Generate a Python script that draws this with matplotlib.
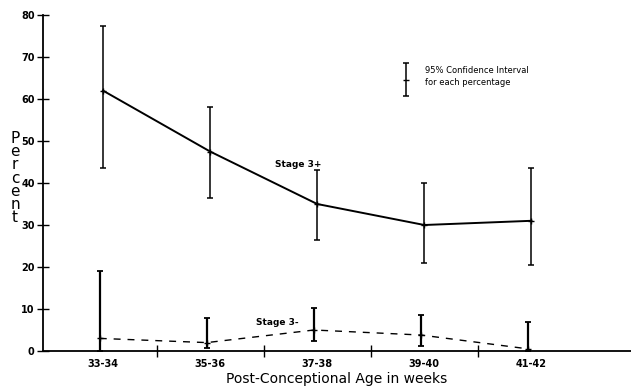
import matplotlib.pyplot as plt
import numpy as np

# Data
ages = ["33-34", "35-36", "37-38", "39-40", "41-42"]
stage3_plus = [62, 47.5, 35, 30, 31]
stage3_plus_lo = [43.5, 36.5, 26.5, 21, 20.5]
stage3_plus_hi = [77.5, 58, 43, 40, 43.5]
stage3_minus = [3, 2, 5, 3.8, 0.5]
stage3_minus_lo = [0, 0.8, 2.5, 1.3, 0]
stage3_minus_hi = [19, 7.9, 10.3, 8.6, 6.8]

x = np.arange(len(ages))

fig = plt.figure(figsize=(6.31, 3.91), dpi=100)
ax = fig.add_axes([43 / 631, 40 / 391, 588 / 631, 336 / 391])

# Stage 3+ (solid)
yerr_p = [np.subtract(stage3_plus, stage3_plus_lo), np.subtract(stage3_plus_hi, stage3_plus)]
ax.errorbar(x, stage3_plus, yerr=yerr_p, color="black", lw=1.4, elinewidth=1.1,
            capsize=2.5, capthick=1.1, marker="+", ms=4)

# Stage 3- (dashed)
yerr_m = [np.subtract(stage3_minus, stage3_minus_lo), np.subtract(stage3_minus_hi, stage3_minus)]
eb = ax.errorbar(x - 0.03, stage3_minus, yerr=yerr_m, color="black", lw=1.0, ls=(0, (5, 5)),
                 elinewidth=1.6, capsize=2.5, capthick=1.3, marker="+", ms=4)

ax.text(1.61, 44.5, "Stage 3+", fontsize=6.5, fontweight="bold", va="center")
ax.text(1.43, 6.7, "Stage 3-", fontsize=6.5, fontweight="bold", va="center")

# legend glyph for the confidence interval
ax.errorbar([0.617], [0.806], yerr=[[0.047], [0.051]], transform=ax.transAxes,
            color="black", elinewidth=1.1, capsize=2.5, capthick=1.1, marker="_", ms=4)
ax.text(0.65, 0.835, "95% Confidence Interval", transform=ax.transAxes,
        fontsize=6, va="center")
ax.text(0.65, 0.798, "for each percentage", transform=ax.transAxes,
        fontsize=6, va="center")

ax.set_xlim(-0.56, 4.93)
ax.set_ylim(0, 80)
ax.spines["top"].set_visible(False)
ax.spines["right"].set_visible(False)
ax.spines["left"].set_linewidth(1.3)
ax.spines["bottom"].set_linewidth(1.3)

ax.set_yticks(np.arange(0, 81, 10))
ax.set_xticks(x)
ax.set_xticklabels(ages)
ax.set_xticks(x[:-1] + 0.5, minor=True)
ax.tick_params(axis="x", which="major", length=0, labelsize=7, pad=6)
ax.tick_params(axis="x", which="minor", direction="inout", length=8, width=1)
ax.tick_params(axis="y", direction="inout", length=8, width=1, labelsize=7, pad=2)
for lab in ax.get_xticklabels() + ax.get_yticklabels():
    lab.set_fontweight("bold")

ax.set_xlabel("Post-Conceptional Age in weeks", fontsize=10, labelpad=2)
fig.text(15 / 631, 1 - 178 / 391, "P\ne\nr\nc\ne\nn\nt", fontsize=11,
         ha="center", va="center", linespacing=0.85)

fig.savefig("out.png", dpi=100)
